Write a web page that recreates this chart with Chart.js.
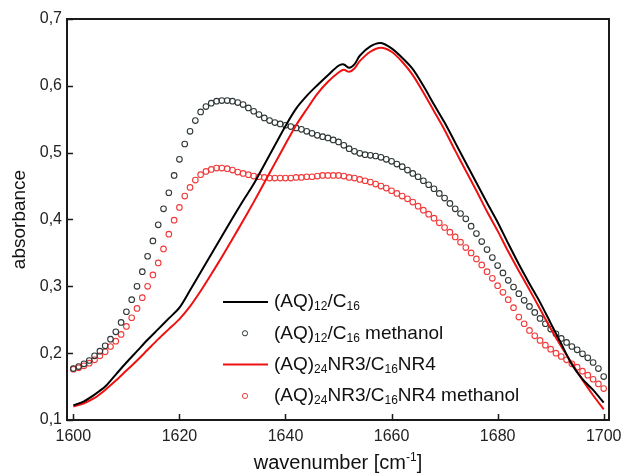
<!DOCTYPE html>
<html>
<head>
<meta charset="utf-8">
<script src="https://cdn.jsdelivr.net/npm/chart.js@4.4.1/dist/chart.umd.min.js"></script>
<style>
  html, body { margin: 0; padding: 0; background: #fff; }
  #wrap { width: 623px; height: 474px; }
</style>
</head>
<body>
<div id="wrap"><canvas id="grafico"></canvas></div>
<script>
// eixo x dos espectros com círculos (1 cm-1)
const wnPontos = [
  1600, 1601, 1602, 1603, 1604, 1605, 1606, 1607, 1608, 1609,
  1610, 1611, 1612, 1613, 1614, 1615, 1616, 1617, 1618, 1619,
  1620, 1621, 1622, 1623, 1624, 1625, 1626, 1627, 1628, 1629,
  1630, 1631, 1632, 1633, 1634, 1635, 1636, 1637, 1638, 1639,
  1640, 1641, 1642, 1643, 1644, 1645, 1646, 1647, 1648, 1649,
  1650, 1651, 1652, 1653, 1654, 1655, 1656, 1657, 1658, 1659,
  1660, 1661, 1662, 1663, 1664, 1665, 1666, 1667, 1668, 1669,
  1670, 1671, 1672, 1673, 1674, 1675, 1676, 1677, 1678, 1679,
  1680, 1681, 1682, 1683, 1684, 1685, 1686, 1687, 1688, 1689,
  1690, 1691, 1692, 1693, 1694, 1695, 1696, 1697, 1698, 1699,
  1700
];
// (AQ)12/C16 methanol
const absMetanol12 = [
  .177, .180, .184, .189, .196, .203, .211, .221, .232, .246,
  .262, .280, .300, .322, .345, .368, .392, .416, .440, .466,
  .490, .513, .532, .548, .561, .569, .574, .577, .578, .578,
  .577, .575, .572, .567, .562, .557, .552, .548, .545, .543,
  .541, .539, .537, .535, .532, .529, .526, .524, .522, .519,
  .516, .511, .506, .502, .499, .497, .496, .495, .493, .490,
  .487, .483, .479, .474, .469, .464, .458, .452, .446, .439,
  .432, .424, .416, .409, .401, .390, .379, .367, .355, .343,
  .331, .320, .309, .299, .289, .279, .270, .261, .252, .244,
  .236, .229, .222, .216, .210, .205, .199, .193, .186, .177,
  .165
];
// (AQ)24NR3/C16NR4 methanol
const absMetanol24 = [
  .176, .178, .181, .185, .190, .196, .202, .210, .218, .228,
  .240, .253, .267, .283, .300, .317, .335, .356, .378, .399,
  .418, .435, .448, .459, .467, .472, .475, .477, .477, .476,
  .474, .471, .469, .467, .465, .464, .463, .462, .462, .462,
  .462, .462, .463, .463, .464, .464, .465, .466, .466, .466,
  .466, .465, .463, .462, .460, .458, .456, .453, .450, .447,
  .443, .439, .435, .431, .426, .420, .414, .408, .402, .395,
  .388, .381, .374, .366, .358, .350, .341, .332, .322, .312,
  .301, .291, .280, .268, .254, .244, .234, .226, .219, .212,
  .206, .200, .195, .190, .184, .179, .173, .167, .161, .154,
  .147
];

// eixo x das linhas contínuas
const wnLinhas = [
  1600, 1602, 1604, 1606, 1608, 1610, 1612, 1614, 1616, 1618,
  1620, 1622, 1624, 1626, 1628, 1630, 1632, 1634, 1636, 1638,
  1640, 1642, 1644, 1646, 1648, 1650, 1651, 1652, 1653, 1654,
  1656, 1658, 1660, 1662, 1664, 1666, 1668, 1670, 1672, 1674,
  1676, 1678, 1680, 1682, 1684, 1686, 1688, 1690, 1692, 1694,
  1696, 1698, 1700
];
// (AQ)12/C16
const absAQ12 = [
  .122, .128, .138, .150, .168, .186, .203, .220, .236, .252,
  .268, .294, .321, .348, .375, .402, .428, .453, .482, .511,
  .540, .566, .585, .601, .616, .630, .632, .627, .632, .645,
  .659, .664, .656, .642, .625, .600, .572, .545, .515, .485,
  .455, .425, .396, .364, .333, .304, .276, .245, .214, .183,
  .161, .145, .126
];
// (AQ)24NR3/C16NR4
const absAQ24 = [
  .120, .125, .133, .145, .159, .174, .189, .205, .221, .236,
  .251, .270, .293, .318, .344, .371, .398, .426, .455, .484,
  .513, .541, .565, .588, .606, .620, .624, .621, .626, .637,
  .651, .657, .651, .636, .616, .590, .562, .534, .503, .473,
  .443, .412, .383, .352, .323, .295, .266, .237, .210, .185,
  .160, .137, .116
];

const ticksX = [1600, 1620, 1640, 1660, 1680, 1700];
const ticksY = [0.1, 0.2, 0.3, 0.4, 0.5, 0.6, 0.7];

const FONTE = "'Liberation Sans', Arial, Helvetica, sans-serif";
const PRETO = '#000000';
const VERMELHO = '#ee1111';
const CIRC_PRETO = '#2e3636';
const CIRC_VERMELHO = '#f03a3a';

// rótulos da legenda: [texto, 0 normal | 1 subscrito]
const legendaItens = [
  { tipo: 'linha', cor: PRETO, partes: [['(AQ)', 0], ['12', 1], ['/C', 0], ['16', 1]] },
  { tipo: 'circulo', cor: CIRC_PRETO, partes: [['(AQ)', 0], ['12', 1], ['/C', 0], ['16', 1], [' methanol', 0]] },
  { tipo: 'linha', cor: VERMELHO, partes: [['(AQ)', 0], ['24', 1], ['NR3/C', 0], ['16', 1], ['NR4', 0]] },
  { tipo: 'circulo', cor: CIRC_VERMELHO, partes: [['(AQ)', 0], ['24', 1], ['NR3/C', 0], ['16', 1], ['NR4 methanol', 0]] }
];

const Grafico = (() => {
  function pares(xs, ys) {
    return xs.map((x, i) => ({ x: x, y: ys[i] }));
  }

  // escreve texto com sub/sobrescritos, retorna largura
  function textoMisto(ctx, x, y, partes, tam, tamPeq) {
    let cx = x;
    partes.forEach(([txt, modo]) => {
      ctx.font = (modo ? tamPeq : tam) + 'px ' + FONTE;
      const dy = modo === 1 ? 5 : (modo === 2 ? -8 : 0);
      ctx.fillText(txt, cx, y + dy);
      cx += ctx.measureText(txt).width;
    });
    return cx - x;
  }

  function medeMisto(ctx, partes, tam, tamPeq) {
    let w = 0;
    partes.forEach(([txt, modo]) => {
      ctx.font = (modo ? tamPeq : tam) + 'px ' + FONTE;
      w += ctx.measureText(txt).width;
    });
    return w;
  }

  const moldura = {
    id: 'moldura',
    afterDraw(chart) {
      const ctx = chart.ctx;
      const a = chart.chartArea;
      const sx = chart.scales.x, sy = chart.scales.y;
      ctx.save();

      // caixa em volta da área do gráfico
      ctx.strokeStyle = '#1a1a1a';
      ctx.lineWidth = 2;
      ctx.strokeRect(a.left, a.top, a.right - a.left, a.bottom - a.top);

      // marcas para dentro
      ctx.lineWidth = 1.5;
      ctx.beginPath();
      sx.ticks.forEach(t => {
        const px = Math.round(sx.getPixelForValue(t.value)) + 0.5;
        ctx.moveTo(px, a.bottom);
        ctx.lineTo(px, a.bottom - 6);
      });
      sy.ticks.forEach(t => {
        const py = Math.round(sy.getPixelForValue(t.value)) + 0.5;
        ctx.moveTo(a.left, py);
        ctx.lineTo(a.left + 6, py);
      });
      ctx.stroke();

      // legenda
      const lx = a.left + 156, tx = a.left + 207, ly = a.top + 283, passo = 31.3;
      ctx.textBaseline = 'middle';
      ctx.textAlign = 'left';
      legendaItens.forEach((it, i) => {
        const y = ly + i * passo;
        ctx.strokeStyle = it.cor;
        ctx.beginPath();
        if (it.tipo === 'linha') {
          ctx.lineWidth = 2;
          ctx.moveTo(lx, y);
          ctx.lineTo(lx + 45, y);
        } else {
          ctx.lineWidth = 1;
          ctx.arc(lx + 22, y, 2.6, 0, Math.PI * 2);
        }
        ctx.stroke();
        ctx.fillStyle = '#111';
        textoMisto(ctx, tx, y, it.partes, 19, 12);
      });

      // título do eixo x com sobrescrito
      const titulo = [['wavenumber [cm', 0], ['-1', 2], [']', 0]];
      ctx.textBaseline = 'alphabetic';
      const w = medeMisto(ctx, titulo, 20, 12);
      textoMisto(ctx, (a.left + a.right) / 2 - w / 2, 469, titulo, 20, 12);

      ctx.restore();
    }
  };

  function init() {
    const ctx = document.getElementById('grafico').getContext('2d');
    return new Chart(ctx, {
      type: 'scatter',
      data: {
        datasets: [
          {
            label: '(AQ)12/C16',
            data: pares(wnLinhas, absAQ12),
            showLine: true, borderColor: PRETO, borderWidth: 2,
            pointRadius: 0, tension: 0.3, order: 1
          },
          {
            label: '(AQ)24NR3/C16NR4',
            data: pares(wnLinhas, absAQ24),
            showLine: true, borderColor: VERMELHO, borderWidth: 2,
            pointRadius: 0, tension: 0.3, order: 1
          },
          {
            label: '(AQ)12/C16 methanol',
            data: pares(wnPontos, absMetanol12),
            showLine: false, pointStyle: 'circle', pointRadius: 2.8,
            pointBorderWidth: 1.1, borderColor: CIRC_PRETO,
            backgroundColor: 'rgba(0,0,0,0)', order: 2
          },
          {
            label: '(AQ)24NR3/C16NR4 methanol',
            data: pares(wnPontos, absMetanol24),
            showLine: false, pointStyle: 'circle', pointRadius: 2.8,
            pointBorderWidth: 1.1, borderColor: CIRC_VERMELHO,
            backgroundColor: 'rgba(0,0,0,0)', order: 3
          }
        ]
      },
      options: {
        responsive: true,
        maintainAspectRatio: false,
        animation: false,
        layout: { padding: { top: 19, right: 14, left: 0, bottom: 0 } },
        plugins: { legend: { display: false }, tooltip: { enabled: false } },
        scales: {
          x: {
            type: 'linear', min: 1598.8, max: 1701,
            grid: { display: false, drawTicks: false },
            border: { display: false },
            ticks: {
              padding: 7, color: '#222', font: { size: 16, family: FONTE },
              callback: v => String(v)
            },
            afterBuildTicks: s => { s.ticks = ticksX.map(v => ({ value: v })); },
            afterFit: s => { s.height = 54; s.paddingLeft = 0; s.paddingRight = 0; }
          },
          y: {
            type: 'linear', min: 0.1, max: 0.7,
            grid: { display: false, drawTicks: false },
            border: { display: false },
            ticks: {
              padding: 5, color: '#222', font: { size: 16, family: FONTE },
              callback: v => v.toFixed(1).replace('.', ',')
            },
            afterBuildTicks: s => { s.ticks = ticksY.map(v => ({ value: v })); },
            afterFit: s => { s.width = 67; s.paddingTop = 0; s.paddingBottom = 0; },
            title: {
              display: true, text: 'absorbance', color: '#111',
              font: { size: 19, family: FONTE }, padding: { top: 8, bottom: 0 }
            }
          }
        }
      },
      plugins: [moldura]
    });
  }

  return { init };
})();

Grafico.init();
</script>
</body>
</html>
